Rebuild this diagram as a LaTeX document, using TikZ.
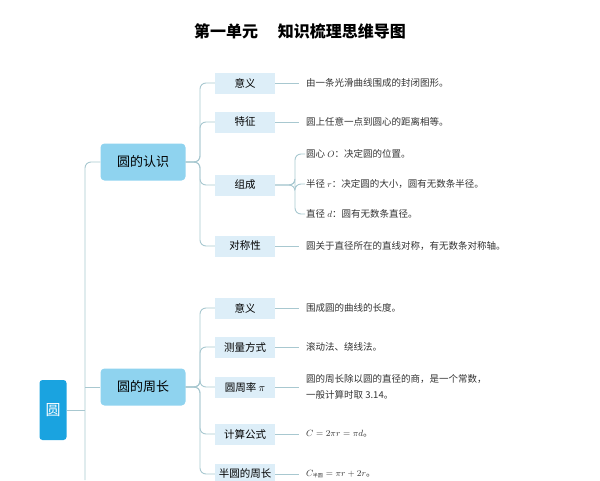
\documentclass[tikz,border=0pt]{standalone}
\usepackage{fontspec}
\newfontfamily\cjk{Noto Sans CJK SC}
\usetikzlibrary{positioning}
\definecolor{rootblue}{HTML}{1AA3E0}
\definecolor{mainblue}{HTML}{8FD3EF}
\definecolor{subblue}{HTML}{DDEEF8}
\definecolor{linkgray}{HTML}{A8C8D0}
\tikzset{
  rootbox/.style={fill=rootblue, rounded corners=3pt, minimum width=27pt, minimum height=60pt, text=white, font=\cjk\fontsize{15}{15}\selectfont},
  mainbox/.style={fill=mainblue, rounded corners=4pt, minimum width=85pt, minimum height=37pt, font=\cjk\fontsize{13}{13}\selectfont},
  subbox/.style={fill=subblue, minimum width=60pt, minimum height=21pt, inner sep=1pt, font=\cjk\fontsize{10.5}{10.5}\selectfont},
  leaf/.style={anchor=west, inner sep=1pt, align=left, text=black!80, font=\cjk\fontsize{9.5}{16}\selectfont},
  link/.style={draw=linkgray, line width=0.9pt, rounded corners=6pt},
}
\begin{document}
\begin{tikzpicture}[x=1pt,y=-1pt]
  \useasboundingbox (0,0) rectangle (600,480);

  \node[font=\cjk\bfseries\fontsize{16}{16}\selectfont] (title) at (300,31) {第一单元\quad\ 知识梳理思维导图};

  \node[rootbox] (root) at (53,410) {圆};
  \node[mainbox] (know) at (143,162) {圆的认识};
  \node[mainbox] (peri) at (143,387) {圆的周长};

  % 圆的认识
  \node[subbox] (k1) at (245,83) {意义};
  \node[subbox] (k2) at (245,122) {特征};
  \node[subbox] (k3) at (245,185) {组成};
  \node[subbox] (k4) at (245,246) {对称性};
  \node[leaf] (k1t) at (305,83) {由一条光滑曲线围成的封闭图形。};
  \node[leaf] (k2t) at (305,122) {圆上任意一点到圆心的距离相等。};
  \node[leaf] (k3a) at (305,154) {圆心 $O$：决定圆的位置。};
  \node[leaf] (k3b) at (305,184) {半径 $r$：决定圆的大小，圆有无数条半径。};
  \node[leaf] (k3c) at (305,214) {直径 $d$：圆有无数条直径。};
  \node[leaf] (k4t) at (305,246) {圆关于直径所在的直线对称，有无数条对称轴。};

  % 圆的周长
  \node[subbox] (p1) at (245,308) {意义};
  \node[subbox] (p2) at (245,347) {测量方式};
  \node[subbox] (p3) at (245,387) {圆周率 $\pi$};
  \node[subbox] (p4) at (245,434) {计算公式};
  \node[subbox] (p5) at (245,474) {半圆的周长};
  \node[leaf] (p1t) at (305,308) {围成圆的曲线的长度。};
  \node[leaf] (p2t) at (305,347) {滚动法、绕线法。};
  \node[leaf] (p3t) at (305,387) {圆的周长除以圆的直径的商，是一个常数，\\一般计算时取 3.14。};
  \node[leaf] (p4t) at (305,434) {$C=2\pi r=\pi d$。};
  \node[leaf] (p5t) at (305,474) {$C_{\mbox{\cjk\tiny 半圆}}=\pi r+2r$。};

  % connectors
  \coordinate (trunk) at (85,410);
  \draw[link] (root.east) -- (trunk);
  \draw[link] (85,480) -- (85,175) |- (know.west);
  \draw[link] (peri.west) -- (85,387);
  \foreach \c in {k1,k2,k3,k4}
    \draw[link] (know.east) -- (200,162) |- (\c.west);
  \foreach \c in {p1,p2,p3,p4,p5}
    \draw[link] (peri.east) -- (200,387) |- (\c.west);
  \foreach \c/\t in {k1/k1t,k2/k2t,k4/k4t,p1/p1t,p2/p2t,p3/p3t,p4/p4t,p5/p5t}
    \draw[link] (\c.east) -- ([xshift=-6pt]\t.west);
  \foreach \t in {k3a,k3b,k3c}
    \draw[link] (k3.east) -- (295,185) |- (\t.west);
\end{tikzpicture}
\end{document}
